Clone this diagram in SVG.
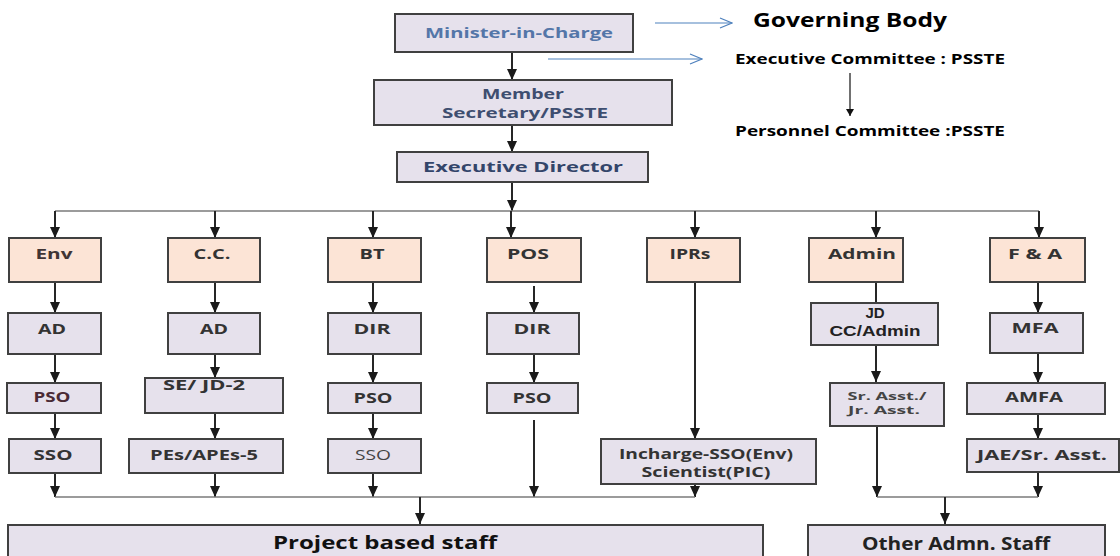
<svg xmlns="http://www.w3.org/2000/svg" width="1120" height="556" viewBox="0 0 1120 556">
<defs>
<marker id="ah" markerUnits="userSpaceOnUse" markerWidth="12" markerHeight="10" refX="11" refY="5" orient="auto">
<path d="M0,0 L11,5 L0,10 z" fill="#1a1a1a"/>
</marker>
<marker id="ahs" markerUnits="userSpaceOnUse" markerWidth="8" markerHeight="8" refX="7" refY="4" orient="auto">
<path d="M0,0 L7,4 L0,8 z" fill="#111"/>
</marker>
<marker id="ab" markerUnits="userSpaceOnUse" markerWidth="14" markerHeight="12" refX="13" refY="6" orient="auto">
<path d="M1,1 L13,6 L1,11" fill="none" stroke="#4F81BD" stroke-width="1.2"/>
</marker>
</defs>
<style>
.pe{fill:#FCE4D6;stroke:#404040;stroke-width:2}
.lv{fill:#E6E1EC;stroke:#404040;stroke-width:2}
.t{font-family:"Open Sans","Liberation Sans",sans-serif;font-weight:bold;font-size:15px;fill:#333;text-anchor:middle}
.a{font-family:"Liberation Sans",Arial,sans-serif;font-weight:bold;fill:#222;text-anchor:middle}
.c{stroke:#262626;stroke-width:2;fill:none}
.h{stroke:#7a7a7a;stroke-width:1.6;fill:none}
.ar{marker-end:url(#ah)}
</style>
<rect width="1120" height="556" fill="#fff"/>

<g id="connectors">
<path class="c ar" d="M512,52 V80"/>
<path class="c ar" d="M512,125 V152"/>
<path class="c ar" d="M512,182 V211"/>
<path class="h" d="M55,211 H1039"/>
<path class="c ar" d="M55,211 V238"/>
<path class="c ar" d="M215,211 V238"/>
<path class="c ar" d="M373,211 V238"/>
<path class="c ar" d="M511,211 V238"/>
<path class="c ar" d="M695,211 V238"/>
<path class="c ar" d="M876,211 V238"/>
<path class="c ar" d="M1039,211 V238"/>

<path class="c ar" d="M55,282 V313"/>
<path class="c ar" d="M55,354 V383"/>
<path class="c ar" d="M55,413 V439"/>
<path class="c ar" d="M55,473 V497"/>

<path class="c ar" d="M215,282 V313"/>
<path class="c ar" d="M215,354 V378"/>
<path class="c ar" d="M215,413 V439"/>
<path class="c ar" d="M215,473 V497"/>

<path class="c ar" d="M373,282 V313"/>
<path class="c ar" d="M373,354 V383"/>
<path class="c ar" d="M373,413 V439"/>
<path class="c ar" d="M373,473 V497"/>

<path class="c ar" d="M534,286 V313"/>
<path class="c ar" d="M534,354 V383"/>
<path class="c ar" d="M534,420 V497"/>

<path class="c ar" d="M695,282 V439"/>
<path class="c ar" d="M695,484 V497"/>

<path class="h" d="M55,497 H695"/>
<path class="c ar" d="M420,497 V524"/>

<path class="c" d="M876,282 V303"/>
<path class="c ar" d="M876,345 V382"/>
<path class="c ar" d="M877,426 V497"/>

<path class="c ar" d="M1038,282 V313"/>
<path class="c ar" d="M1038,353 V383"/>
<path class="c ar" d="M1038,414 V439"/>
<path class="c ar" d="M1038,472 V497"/>

<path class="h" d="M877,497 H1038"/>
<path class="c ar" d="M945,497 V524"/>

<path d="M655,23 H732" stroke="#4F81BD" stroke-width="1.2" fill="none" marker-end="url(#ab)"/>
<path d="M548,59 H702" stroke="#4F81BD" stroke-width="1.2" fill="none" marker-end="url(#ab)"/>
<path d="M850,73 V116" stroke="#111" stroke-width="1.2" fill="none" marker-end="url(#ahs)"/>
</g>

<g id="minister"><rect class="lv" x="395" y="14" width="238" height="38"/>
<text class="t" x="519" y="38" style="fill:#5476A8;font-size:14px" textLength="188" lengthAdjust="spacingAndGlyphs">Minister-in-Charge</text></g>
<g id="member"><rect class="lv" x="374" y="80" width="298" height="45"/>
<text class="t" x="523" y="99" style="fill:#3E4E70;font-size:14px" textLength="82" lengthAdjust="spacingAndGlyphs">Member</text>
<text class="t" x="525" y="118" style="fill:#3E4E70;font-size:14px" textLength="166" lengthAdjust="spacingAndGlyphs">Secretary/PSSTE</text></g>
<g id="execdir"><rect class="lv" x="397" y="152" width="251" height="30"/>
<text class="t" x="523" y="172" style="fill:#33456A" textLength="200" lengthAdjust="spacingAndGlyphs">Executive Director</text></g>

<g id="governing"><text class="t" x="850" y="27" style="font-size:20px;fill:#000" textLength="194" lengthAdjust="spacingAndGlyphs">Governing Body</text></g>
<g id="execcomm"><text class="t" x="870" y="64" style="font-size:14px;fill:#000" textLength="270" lengthAdjust="spacingAndGlyphs">Executive Committee : PSSTE</text></g>
<g id="personnel"><text class="t" x="870" y="136" style="font-size:14px;fill:#000" textLength="270" lengthAdjust="spacingAndGlyphs">Personnel Committee :PSSTE</text></g>

<g id="env"><rect class="pe" x="9" y="238" width="92" height="44"/><text class="t" x="54" y="259" style="fill:#403535" textLength="37" lengthAdjust="spacingAndGlyphs">Env</text></g>
<g id="cc"><rect class="pe" x="168" y="238" width="92" height="44"/><text class="t" x="212" y="259" textLength="37" lengthAdjust="spacingAndGlyphs">C.C.</text></g>
<g id="bt"><rect class="pe" x="328" y="238" width="93" height="44"/><text class="t" x="372" y="259" textLength="25" lengthAdjust="spacingAndGlyphs">BT</text></g>
<g id="pos"><rect class="pe" x="487" y="238" width="94" height="44"/><text class="t" x="528" y="259" textLength="42" lengthAdjust="spacingAndGlyphs">POS</text></g>
<g id="iprs"><rect class="pe" x="647" y="238" width="93" height="44"/><text class="t" x="690" y="259" textLength="41" lengthAdjust="spacingAndGlyphs">IPRs</text></g>
<g id="admin"><rect class="pe" x="809" y="238" width="94" height="44"/><text class="t" x="862" y="259" textLength="68" lengthAdjust="spacingAndGlyphs">Admin</text></g>
<g id="fa"><rect class="pe" x="990" y="238" width="95" height="44"/><text class="t" x="1035" y="259" textLength="54" lengthAdjust="spacingAndGlyphs">F &amp; A</text></g>

<g id="env-ad"><rect class="lv" x="8" y="313" width="93" height="41"/><text class="t" x="52" y="334" textLength="28" lengthAdjust="spacingAndGlyphs">AD</text></g>
<g id="cc-ad"><rect class="lv" x="168" y="313" width="92" height="41"/><text class="t" x="214" y="334" textLength="28" lengthAdjust="spacingAndGlyphs">AD</text></g>
<g id="bt-dir"><rect class="lv" x="328" y="313" width="93" height="41"/><text class="t" x="372" y="334" textLength="37" lengthAdjust="spacingAndGlyphs">DIR</text></g>
<g id="pos-dir"><rect class="lv" x="487" y="313" width="92" height="41"/><text class="t" x="532" y="334" textLength="37" lengthAdjust="spacingAndGlyphs">DIR</text></g>
<g id="jd"><rect class="lv" x="811" y="303" width="127" height="42"/>
<text class="a" x="875" y="318" style="font-size:15px">JD</text>
<text class="a" x="875" y="336" style="font-size:15px" textLength="91" lengthAdjust="spacingAndGlyphs">CC/Admin</text></g>
<g id="mfa"><rect class="lv" x="990" y="313" width="93" height="40"/><text class="t" x="1035" y="333" textLength="47" lengthAdjust="spacingAndGlyphs">MFA</text></g>

<g id="env-pso"><rect class="lv" x="7" y="383" width="94" height="30"/><text class="t" x="52" y="402" style="fill:#4A2A35" textLength="37" lengthAdjust="spacingAndGlyphs">PSO</text></g>
<g id="cc-sejd"><rect class="lv" x="145" y="378" width="138" height="35"/><text class="t" x="204" y="390" textLength="82" lengthAdjust="spacingAndGlyphs">SE/ JD-2</text></g>
<g id="bt-pso"><rect class="lv" x="328" y="383" width="93" height="30"/><text class="t" x="373" y="403" textLength="39" lengthAdjust="spacingAndGlyphs">PSO</text></g>
<g id="pos-pso"><rect class="lv" x="487" y="383" width="91" height="30"/><text class="t" x="532" y="403" textLength="39" lengthAdjust="spacingAndGlyphs">PSO</text></g>
<g id="srasst"><rect class="lv" x="830" y="383" width="114" height="43"/>
<text class="t" x="887" y="400" style="font-size:11px;fill:#444" textLength="79" lengthAdjust="spacingAndGlyphs">Sr. Asst./</text>
<text class="t" x="884" y="414" style="font-size:11px;fill:#444" textLength="72" lengthAdjust="spacingAndGlyphs">Jr. Asst.</text></g>
<g id="amfa"><rect class="lv" x="967" y="383" width="138" height="31"/><text class="t" x="1034" y="402" textLength="58" lengthAdjust="spacingAndGlyphs">AMFA</text></g>

<g id="env-sso"><rect class="lv" x="9" y="439" width="92" height="34"/><text class="t" x="53" y="460" textLength="39" lengthAdjust="spacingAndGlyphs">SSO</text></g>
<g id="cc-pes"><rect class="lv" x="129" y="439" width="154" height="34"/><text class="t" x="204" y="460" style="font-size:14px" textLength="108" lengthAdjust="spacingAndGlyphs">PEs/APEs-5</text></g>
<g id="bt-sso"><rect class="lv" x="328" y="439" width="93" height="34"/><text class="t" x="373" y="460" style="font-weight:normal;fill:#444" textLength="36" lengthAdjust="spacingAndGlyphs">SSO</text></g>
<g id="incharge"><rect class="lv" x="601" y="439" width="215" height="45"/>
<text class="t" x="706" y="459" textLength="174" lengthAdjust="spacingAndGlyphs">Incharge-SSO(Env)</text>
<text class="t" x="706" y="477" textLength="129" lengthAdjust="spacingAndGlyphs">Scientist(PIC)</text></g>
<g id="jae"><rect class="lv" x="967" y="439" width="152" height="33"/><text class="t" x="1042" y="460" style="font-size:14px" textLength="130" lengthAdjust="spacingAndGlyphs">JAE/Sr. Asst.</text></g>

<g id="project"><rect class="lv" x="8" y="525" width="755" height="40"/><text class="t" x="385" y="549" style="font-size:18px;fill:#111" textLength="224" lengthAdjust="spacingAndGlyphs">Project based staff</text></g>
<g id="other"><rect class="lv" x="808" y="525" width="297" height="40"/><text class="t" x="956" y="550" style="font-size:17px;fill:#222" textLength="188" lengthAdjust="spacingAndGlyphs">Other Admn. Staff</text></g>
</svg>
